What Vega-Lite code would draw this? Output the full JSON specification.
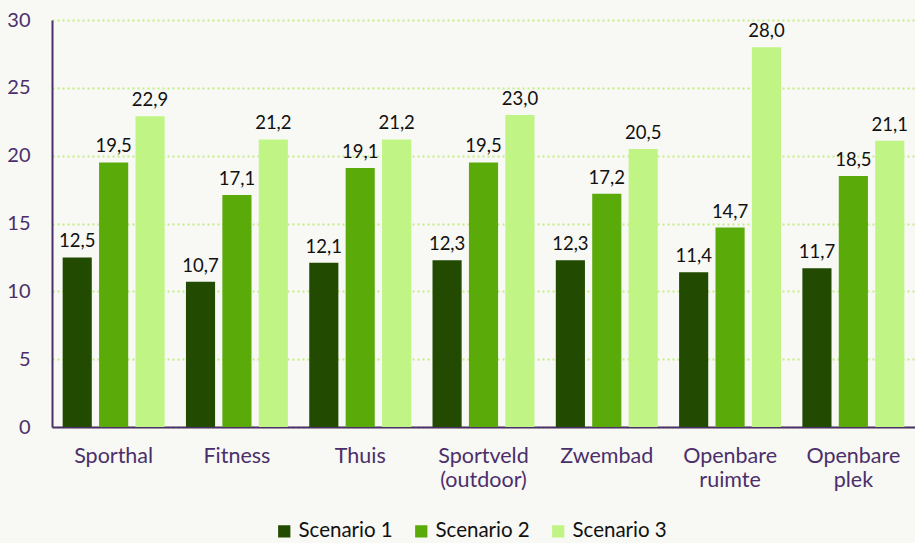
{
  "$schema": "https://vega.github.io/schema/vega-lite/v6.json",
  "width": 863,
  "height": 407,
  "autosize": "none",
  "padding": {"left": 52, "top": 20, "right": 0, "bottom": 116},
  "background": "#f8f8f4",
  "config": {
    "locale": {"number": {"decimal": ",", "thousands": ".", "grouping": [3], "currency": ["€", ""]}},
    "view": {"stroke": null},
    "font": "Lato"
  },
  "data": {
    "values": [
      {"plek": "Sporthal", "scenario": "Scenario 1", "waarde": 12.5},
      {"plek": "Sporthal", "scenario": "Scenario 2", "waarde": 19.5},
      {"plek": "Sporthal", "scenario": "Scenario 3", "waarde": 22.9},
      {"plek": "Fitness", "scenario": "Scenario 1", "waarde": 10.7},
      {"plek": "Fitness", "scenario": "Scenario 2", "waarde": 17.1},
      {"plek": "Fitness", "scenario": "Scenario 3", "waarde": 21.2},
      {"plek": "Thuis", "scenario": "Scenario 1", "waarde": 12.1},
      {"plek": "Thuis", "scenario": "Scenario 2", "waarde": 19.1},
      {"plek": "Thuis", "scenario": "Scenario 3", "waarde": 21.2},
      {"plek": "Sportveld (outdoor)", "scenario": "Scenario 1", "waarde": 12.3},
      {"plek": "Sportveld (outdoor)", "scenario": "Scenario 2", "waarde": 19.5},
      {"plek": "Sportveld (outdoor)", "scenario": "Scenario 3", "waarde": 23.0},
      {"plek": "Zwembad", "scenario": "Scenario 1", "waarde": 12.3},
      {"plek": "Zwembad", "scenario": "Scenario 2", "waarde": 17.2},
      {"plek": "Zwembad", "scenario": "Scenario 3", "waarde": 20.5},
      {"plek": "Openbare ruimte", "scenario": "Scenario 1", "waarde": 11.4},
      {"plek": "Openbare ruimte", "scenario": "Scenario 2", "waarde": 14.7},
      {"plek": "Openbare ruimte", "scenario": "Scenario 3", "waarde": 28.0},
      {"plek": "Openbare plek", "scenario": "Scenario 1", "waarde": 11.7},
      {"plek": "Openbare plek", "scenario": "Scenario 2", "waarde": 18.5},
      {"plek": "Openbare plek", "scenario": "Scenario 3", "waarde": 21.1}
    ]
  },
  "encoding": {
    "x": {
      "field": "plek", "type": "nominal", "sort": null,
      "scale": {"paddingInner": 0.173, "paddingOuter": 0.0865},
      "axis": {
        "title": null, "labelAngle": 0, "labelExpr": "split(datum.label, ' ')",
        "labelFont": "Lato", "labelFontSize": 21.5, "labelColor": "#4b2f6b", "labelLineHeight": 24,
        "labelPadding": 18, "ticks": false, "domainColor": "#4b2f6b", "domainWidth": 2, "grid": false
      }
    },
    "xOffset": {"field": "scenario", "type": "nominal", "scale": {"paddingInner": 0.2, "paddingOuter": 0}},
    "y": {
      "field": "waarde", "type": "quantitative",
      "scale": {"domain": [0, 30], "nice": false},
      "axis": {
        "title": null, "values": [0, 5, 10, 15, 20, 25, 30],
        "labelFont": "Lato", "labelFontSize": 20, "labelColor": "#4b2f6b", "labelPadding": 22,
        "ticks": false, "domainColor": "#4b2f6b", "domainWidth": 2,
        "grid": true, "gridColor": "#c3ef88", "gridDash": [2, 3], "gridWidth": 2
      }
    }
  },
  "layer": [
    {
      "mark": {"type": "bar"},
      "encoding": {
        "color": {
          "field": "scenario", "type": "nominal",
          "scale": {"range": ["#224a00", "#5aaa0a", "#c0f585"]},
          "legend": {
            "title": null, "orient": "none", "direction": "horizontal",
            "legendX": 222, "legendY": 501,
            "labelFont": "Lato", "labelFontSize": 20.5, "labelColor": "#111111",
            "symbolType": "square", "symbolSize": 150, "symbolStrokeWidth": 0, "symbolOpacity": 1,
            "columnPadding": 18, "labelOffset": 4
          }
        }
      }
    },
    {
      "mark": {"type": "text", "baseline": "bottom", "dy": -6, "font": "Lato", "fontSize": 18.5, "color": "#111111"},
      "encoding": {
        "text": {"field": "waarde", "type": "quantitative", "format": ".1f"}
      }
    }
  ]
}
